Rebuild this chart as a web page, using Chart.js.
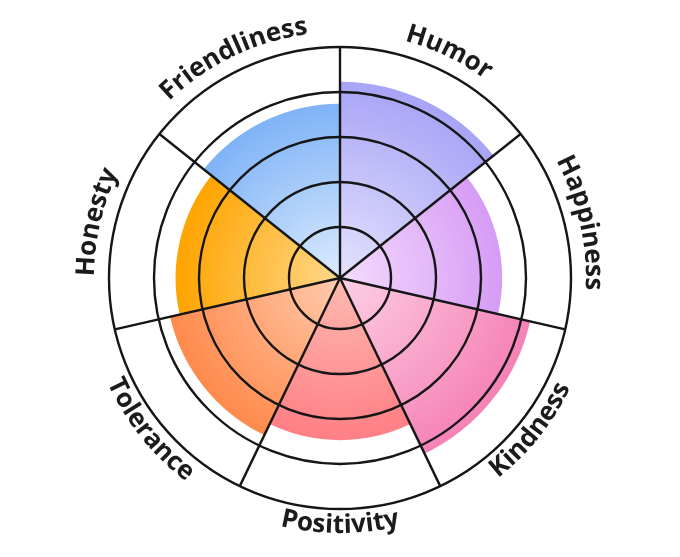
<!DOCTYPE html>
<html>
<head>
<meta charset="utf-8">
<script src="https://cdn.jsdelivr.net/npm/chart.js@4/dist/chart.umd.min.js"></script>
<style>
  html, body { margin: 0; padding: 0; background: #fff; }
  #chart { display: block; }
</style>
</head>
<body>
<canvas id="chart" width="680" height="557"></canvas>
<script>
// traits, clockwise from 12 o'clock
const labels = ['Humor', 'Happiness', 'Kindness', 'Positivity', 'Tolerance', 'Honesty', 'Friendliness'];
const scores = [4.23, 3.47, 4.2, 3.47, 3.74, 3.52, 3.74];
const outerColors = ['#a8a4f6', '#d69cf5', '#f582b6', '#ff7f86', '#ff8a4c', '#ffa400', '#7fb3f7'];
const innerColors = ['#e4e2fd', '#f4dcfd', '#fdd0e4', '#fdbab1', '#ffcbae', '#ffd88a', '#dcebfd'];
const ringMin = -0.1335;
const ringMax = 5;

const fillFor = (context) => {
  const chart = context.chart;
  const scale = chart.scales.r;
  const i = context.dataIndex;
  if (!scale || !chart.chartArea) {
    return outerColors[i];
  }
  const r = scale.getDistanceFromCenterForValue(scores[i]);
  const g = chart.ctx.createRadialGradient(scale.xCenter, scale.yCenter, 0, scale.xCenter, scale.yCenter, r);
  g.addColorStop(0, innerColors[i]);
  g.addColorStop(1, outerColors[i]);
  return g;
};

// labels written along the outer circle
const curvedLabels = {
  id: 'curvedLabels',
  afterDraw(chart) {
    const scale = chart.scales.r;
    const ctx = chart.ctx;
    const cx = scale.xCenter;
    const cy = scale.yCenter;
    const R = scale.drawingArea;
    const step = Math.PI * 2 / labels.length;

    ctx.save();
    ctx.font = '700 26px "Open Sans"';
    ctx.fillStyle = '#1b1b1b';
    ctx.textAlign = 'center';
    ctx.textBaseline = 'alphabetic';

    labels.forEach((text, i) => {
      const mid = -Math.PI / 2 + (i + 0.5) * step;
      const chars = text.split('');
      const widths = chars.map(c => ctx.measureText(c).width);
      const total = widths.reduce((a, b) => a + b, 0);
      const bottom = Math.sin(mid) > 0;
      const r = bottom ? R + 24 : R + 15;
      const span = total / r;
      let run = 0;
      chars.forEach((c, k) => {
        const off = (run + widths[k] / 2) / r;
        const a = bottom ? mid + span / 2 - off : mid - span / 2 + off;
        ctx.save();
        ctx.translate(cx + r * Math.cos(a), cy + r * Math.sin(a));
        ctx.rotate(bottom ? a - Math.PI / 2 : a + Math.PI / 2);
        ctx.fillText(c, 0, 0);
        ctx.restore();
        run += widths[k];
      });
    });
    ctx.restore();
  }
};

new Chart(document.getElementById('chart'), {
  type: 'polarArea',
  data: {
    labels: labels,
    datasets: [{
      data: scores,
      backgroundColor: fillFor,
      borderWidth: 0
    }]
  },
  options: {
    responsive: false,
    animation: false,
    layout: { padding: { top: 47, bottom: 48 } },
    plugins: {
      legend: { display: false },
      tooltip: { enabled: false }
    },
    scales: {
      r: {
        min: ringMin,
        max: ringMax,
        ticks: { display: false, stepSize: 1 },
        pointLabels: { display: false },
        grid: {
          z: 1, // rings and spokes go over the arcs
          color: (c) => (c.tick && c.tick.value > 0 ? '#161616' : 'rgba(0,0,0,0)'),
          lineWidth: 2.4
        },
        angleLines: { display: true, color: '#161616', lineWidth: 2.4 }
      }
    }
  },
  plugins: [curvedLabels]
});
</script>
</body>
</html>
